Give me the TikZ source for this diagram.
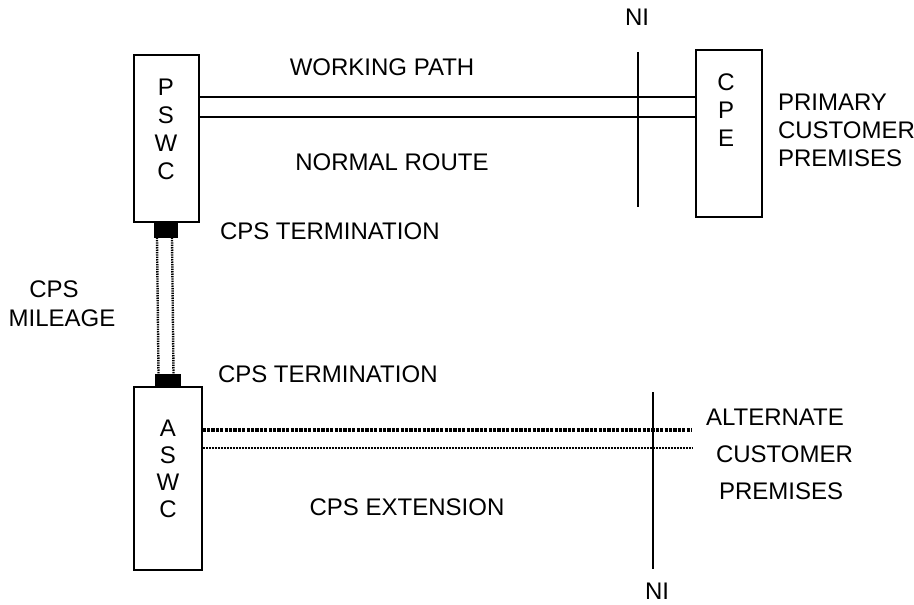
\documentclass[tikz,border=0pt]{standalone}
\usepackage{fontspec}
\setmainfont{Liberation Sans}
\usetikzlibrary{positioning}
\def\rowsep{28}

\begin{document}
\begin{tikzpicture}[x=0.5pt,y=-0.5pt,line width=1pt,font=\fontsize{12}{14}\selectfont]
    \tikzstyle{switch}=[rectangle,draw=black,inner sep=0pt]
    \tikzstyle{termination}=[rectangle,fill=black,inner sep=0pt,outer sep=0pt]
    \tikzstyle{annot}=[inner sep=0pt]
    \tikzstyle{working}=[line width=0.7pt]
    \tikzstyle{mileage}=[line width=1.2pt,dash pattern=on 0.7pt off 0.5pt]
    \tikzstyle{ext thick}=[line width=1.6pt,dash pattern=on 1.6pt off 0.6pt]
    \tikzstyle{ext thin}=[line width=1.1pt,dash pattern=on 1pt off 0.5pt]
    \useasboundingbox (0,0) rectangle (914,604);

    % Draw the switch and customer boxes
    \node[switch,minimum width=32.5pt,minimum height=83pt] (pswc) at (166,138.5) {};
    \node[switch,minimum width=33pt,minimum height=83pt] (cpe) at (728.5,133.5) {};
    \node[switch,minimum width=34pt,minimum height=91.5pt] (aswc) at (167.5,478) {};

    % Letters stacked inside the boxes
    \foreach \ch [count=\i] in {P,S,W,C}
        \node[annot] (pswc-\i) at (166,{87+\rowsep*(\i-1)}) {\ch};
    \foreach \ch [count=\i] in {C,P,E}
        \node[annot] (cpe-\i) at (726,{82+\rowsep*(\i-1)}) {\ch};
    \foreach \ch [count=\i] in {A,S,W,C}
        \node[annot] (aswc-\i) at (168,{428+27*(\i-1)}) {\ch};

    % Draw the CPS terminations
    \node[termination,minimum width=12pt,minimum height=7.5pt,below=0pt of pswc] (ptm) {};
    \node[termination,minimum width=13pt,minimum height=6pt,above=0pt of aswc] (atm) {};

    % Draw the network interfaces
    \coordinate (ni1-top) at (638,52);
    \coordinate (ni1-bot) at (638,207);
    \coordinate (ni2-top) at (653,392);
    \coordinate (ni2-bot) at (653,569);
    \draw (ni1-top) -- (ni1-bot);
    \draw (ni2-top) -- (ni2-bot);

    % Working path between the primary switch and the CPE
    \foreach \name / \y in {1/97,2/117}
        \coordinate (wp-\name) at (638,\y);
    \foreach \name in {1,2}
        \draw[working] (pswc.east |- wp-\name) -- (cpe.west |- wp-\name);

    % CPS mileage between the two terminations
    \foreach \dx in {-4.5pt,3pt}
        \draw[mileage] ([xshift=\dx]ptm.south) -- ([xshift=\dx]atm.north);

    % CPS extension towards the alternate premises
    \coordinate (alt-1) at (692,430);
    \coordinate (alt-2) at (692,448);
    \draw[ext thick] (aswc.east |- alt-1) -- (alt-1);
    \draw[ext thin] (aswc.east |- alt-2) -- (alt-2);

    % Labels
    \node[annot] (ni-top) at (637,17) {NI};
    \node[annot] (ni-bot) at (657,591) {NI};
    \node[annot] (working-lbl) at (382,67) {WORKING PATH};
    \node[annot] (normal-lbl) at (392,162) {NORMAL ROUTE};
    \node[annot,anchor=west,align=left] (primary-lbl) at (777,130) {PRIMARY\\CUSTOMER\\PREMISES};
    \node[annot,anchor=west] (term1-lbl) at (219,231) {CPS TERMINATION};
    \node[annot,anchor=west] (term2-lbl) at (217,374) {CPS TERMINATION};
    \node[annot] (cps-lbl) at (54,289) {CPS};
    \node[annot] (mileage-lbl) at (62,318) {MILEAGE};
    \node[annot,anchor=west] (alternate-lbl) at (705,417) {ALTERNATE};
    \node[annot,anchor=west] (customer-lbl) at (715,454) {CUSTOMER};
    \node[annot,anchor=west] (premises-lbl) at (718,491) {PREMISES};
    \node[annot] (extension-lbl) at (407,507) {CPS EXTENSION};
\end{tikzpicture}
\end{document}
